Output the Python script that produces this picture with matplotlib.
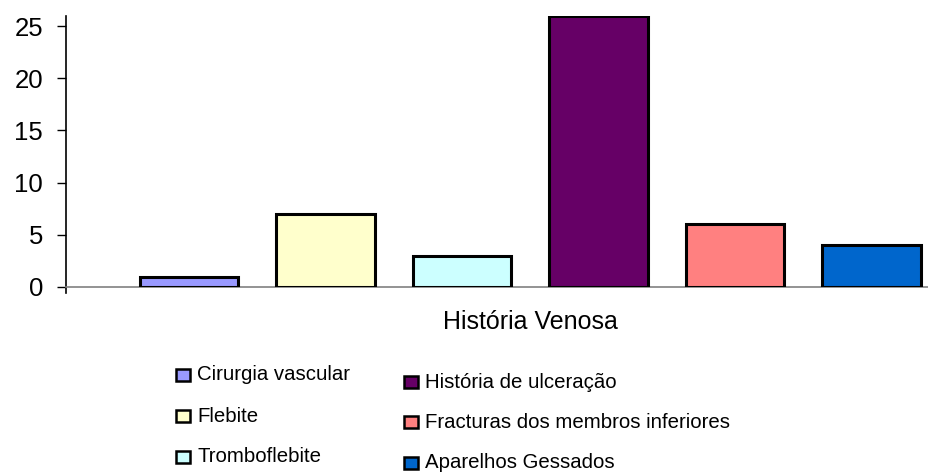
import matplotlib.pyplot as plt
from matplotlib.patches import Rectangle

plt.rcParams['font.family'] = ['Liberation Sans', 'DejaVu Sans']

categories = ['Cirurgia vascular', 'Flebite', 'Tromboflebite',
              'História de ulceração', 'Fracturas dos membros inferiores',
              'Aparelhos Gessados']
values = [1, 7, 3, 26, 6, 4]
colors = ['#9999FF', '#FFFFCC', '#CCFFFF', '#660066', '#FF8080', '#0066CC']
yticks = [0, 5, 10, 15, 20, 25]

fig = plt.figure(figsize=(9.29, 4.72), dpi=100)
ax = fig.add_axes([66 / 929, 1 - 287 / 472, 1 - 66 / 929, (287 - 15.7) / 472])

ax.bar(range(len(values)), values, width=0.72, color=colors,
       edgecolor='black', linewidth=2.2, zorder=3)

ax.set_xlim(-0.9, 5.42)
ax.set_ylim(0, 26)
ax.set_yticks(yticks)
ax.set_xticks([])
ax.tick_params(axis='y', labelsize=18.5, length=6.5, width=1, direction='out', pad=10)

for side in ['top', 'right']:
    ax.spines[side].set_visible(False)
ax.spines['left'].set_linewidth(1.2)
ax.spines['left'].set_bounds(-0.6, 26)
ax.spines['bottom'].set_color('#808080')
ax.spines['bottom'].set_linewidth(1.2)
ax.set_clip_on(False)

fig.text(530 / 929, 1 - 322 / 472, 'História Venosa', fontsize=18,
         ha='center', va='center')

# legend, two columns laid out as in the original
col_pos = [(183, 197, [375, 416, 457]), (411, 425, [382, 422, 463])]
for i, (label, c) in enumerate(zip(categories, colors)):
    bx, tx, ys = col_pos[i // 3]
    y = ys[i % 3]
    fig.add_artist(Rectangle(((bx - 7) / 929, 1 - (y + 6) / 472),
                             14 / 929, 12 / 472, transform=fig.transFigure,
                             facecolor=c, edgecolor='black', linewidth=1.8))
    fig.text(tx / 929, 1 - y / 472, label, fontsize=14.7, ha='left', va='center')

fig.savefig('out.png', dpi=100)
